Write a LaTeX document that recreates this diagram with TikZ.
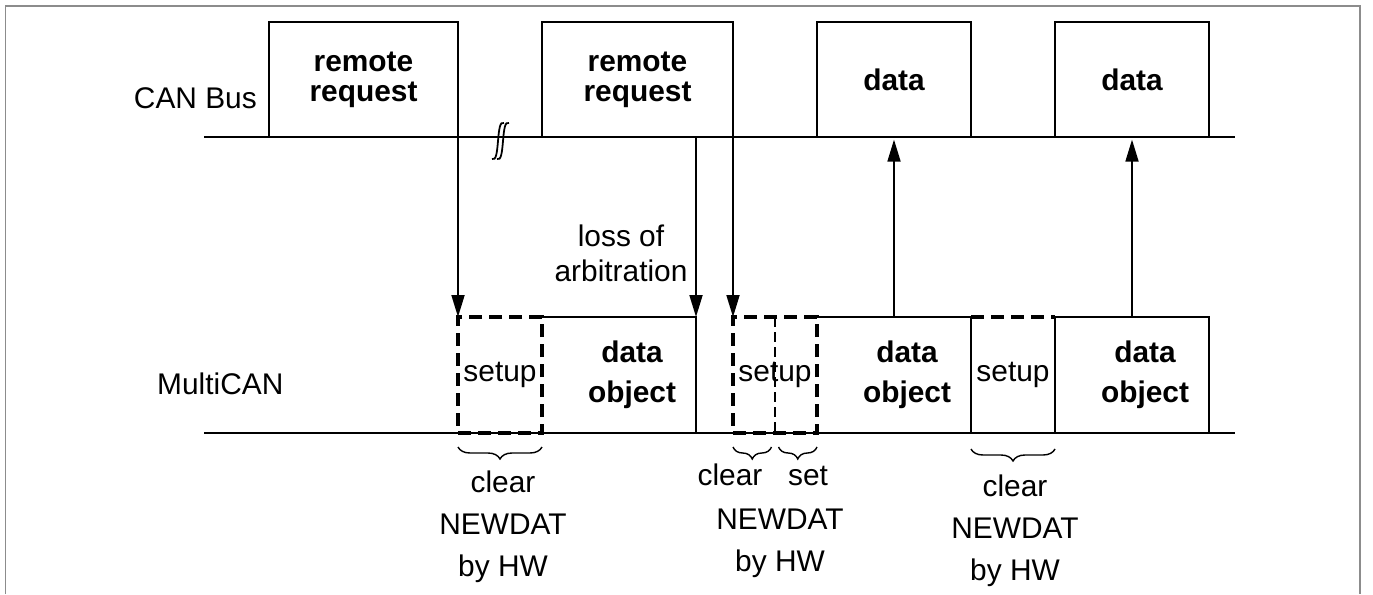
\documentclass[tikz,border=0pt]{standalone}
\usepackage{fontspec}
\setmainfont{Liberation Sans}
\usetikzlibrary{arrows.meta, positioning, decorations.pathreplacing}

\begin{document}
\begin{tikzpicture}[
      font=\fontsize{17}{17}\selectfont,
      lane/.style={line width=1.4pt},
      box/.style={draw, line width=1pt, minimum height=2.30cm, inner sep=0pt, outer sep=0pt,
                  align=center, font=\fontsize{17}{17}\selectfont\bfseries},
      setupbox/.style={draw, line width=1.8pt, dash pattern=on 0.26cm off 0.14cm,
                  minimum width=1.68cm, minimum height=2.32cm, inner sep=0pt, outer sep=0pt},
      objbox/.style={minimum width=3.08cm, minimum height=2.32cm, inner sep=0pt, outer sep=0pt,
                  label={[objtext]center:data\\object}},
      objtext/.style={xshift=0.26cm, inner sep=0pt, align=center, font=\fontsize{17}{23}\selectfont\bfseries},
      rim/.style={line width=1pt},
      ar/.style={-{Triangle[length=0.44cm, width=0.26cm]}, line width=1pt},
      hwbrace/.style={decorate, decoration={brace, mirror, amplitude=0.24cm}, line width=0.8pt},
      note/.style={align=center, inner sep=0pt, font=\fontsize{17}{24}\selectfont}]

    \useasboundingbox (0,0) rectangle (27.46,11.88);
    \draw[gray!90, line width=1.1pt] (0.11,0) |- (27.20,11.76) -- (27.20,0);

    \coordinate (busL) at (4.08,9.14);
    \coordinate (busR) at (24.70,9.14);
    \coordinate (mcL) at (4.08,3.22);
    \coordinate (mcR) at (24.70,3.22);
    \draw[lane] (busL) -- (busR);
    \draw[lane] (mcL) -- (mcR);

    \node[anchor=base east] (can) at (5.26,9.72) {CAN Bus};
    \node[anchor=base west] (mcan) at (3.02,4.00) {MultiCAN};

    \node[setupbox, anchor=south west] (su1) at (9.16,3.22) {setup};
    \node[objbox, right=0pt of su1] (obj1) {};
    \node[setupbox, right=0.74cm of obj1] (su2) {setup};
    \node[objbox, right=0pt of su2] (obj2) {};
    \node[setupbox, draw=none, right=0pt of obj2] (su3) {setup};
    \node[objbox, right=0pt of su3] (obj3) {};

    \node[box, minimum width=3.78cm, anchor=south east] (rr1) at (su1.west |- busL) {remote\\request};
    \node[box, minimum width=3.82cm, anchor=south east] (rr2) at (su2.west |- busL) {remote\\request};
    \node[box, minimum width=3.08cm, anchor=south] (dat1) at (obj2.center |- busL) {data};
    \node[box, minimum width=3.08cm, anchor=south] (dat2) at (obj3.center |- busL) {data};

    \draw[rim] (su1.north east) -- (obj1.north east) -- (obj1.south east);
    \draw[rim] (su2.north east) -- (obj2.north east) -- (obj2.south east);
    \draw[rim] (obj3.south west) -- (obj3.north west) -- (obj3.north east) -- (obj3.south east);
    \draw[line width=1.8pt, dash pattern=on 0.26cm off 0.14cm] (su3.north west) -- (su3.north east);
    \draw[line width=1pt, dash pattern=on 0.2cm off 0.1cm] (su2.north) -- (su2.south);

    \draw[line width=1pt] (9.84,8.70) .. controls (9.92,8.66) and (9.94,8.82) .. (9.96,9.06)
                          .. controls (9.98,9.30) and (10.00,9.46) .. (10.08,9.42);
    \draw[line width=1pt] (9.94,8.70) .. controls (10.02,8.66) and (10.04,8.82) .. (10.06,9.06)
                          .. controls (10.08,9.30) and (10.10,9.46) .. (10.18,9.42);

    \draw[ar] (rr1.south east) -- (su1.north west);
    \draw[ar] (obj1.east |- rr2.south) -- (obj1.north east);
    \draw[ar] (rr2.south east) -- (su2.north west);
    \draw[ar, shorten >=1.5pt] (obj2.north) -- (dat1.south);
    \draw[ar, shorten >=1.5pt] (obj3.north) -- (dat2.south);

    \node[note, anchor=south, font=\fontsize{17}{20}\selectfont] (loss) at ([xshift=0.04cm, yshift=0.70cm]obj1.north) {loss of\\arbitration};

    \draw[hwbrace] ([yshift=-0.28cm]su1.south west) -- ([yshift=-0.28cm]su1.south east);
    \draw[hwbrace] ([yshift=-0.28cm]su2.south west) -- ([xshift=-2pt, yshift=-0.28cm]su2.south);
    \draw[hwbrace] ([xshift=2pt, yshift=-0.28cm]su2.south) -- ([yshift=-0.28cm]su2.south east);
    \draw[hwbrace] ([yshift=-0.32cm]su3.south west) -- ([yshift=-0.32cm]su3.south east);

    \node[note, anchor=north] (hw1) at ([xshift=0.06cm, yshift=-0.75cm]su1.south) {clear\\NEWDAT\\by HW};
    \node[note, anchor=base] (clr2) at ([xshift=-0.90cm, yshift=-1.04cm]su2.south) {clear};
    \node[note, anchor=base] (set2) at ([xshift=0.66cm, yshift=-1.04cm]su2.south) {set};
    \node[note, anchor=north] (hw2) at ([xshift=0.10cm, yshift=-1.51cm]su2.south) {NEWDAT\\by HW};
    \node[note, anchor=north] (hw3) at ([xshift=0.04cm, yshift=-0.82cm]su3.south) {clear\\NEWDAT\\by HW};
  \end{tikzpicture}
\end{document}
